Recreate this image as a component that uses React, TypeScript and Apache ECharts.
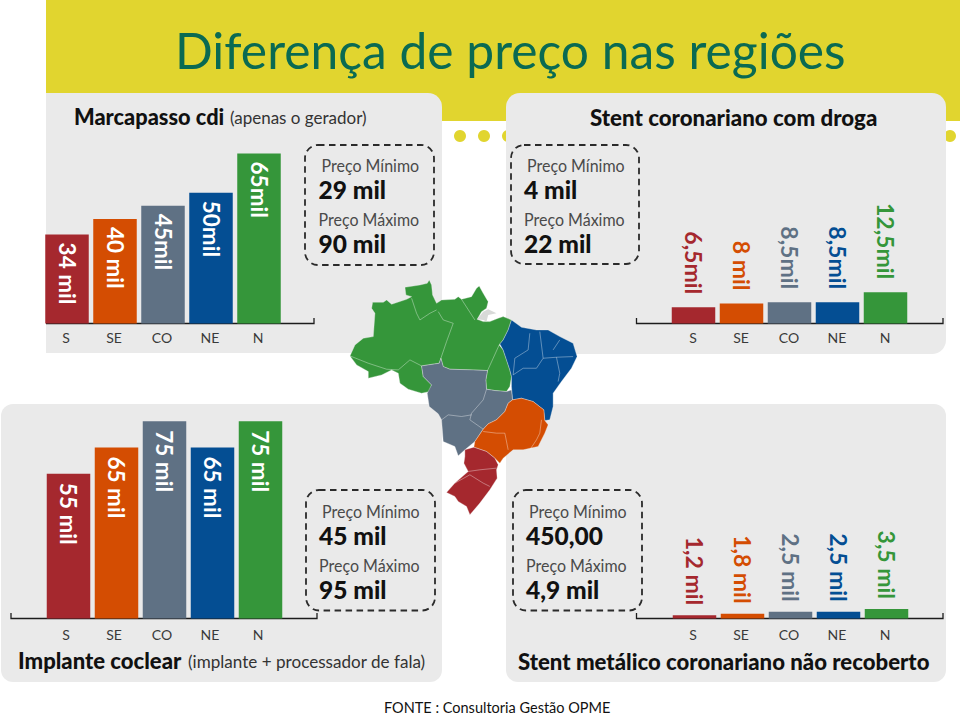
import React, { useEffect, useRef } from "react";
import * as echarts from "echarts";

const regions = ["S", "SE", "CO", "NE", "N"];
const regionColors = ["#A5282E", "#D44D02", "#5F7184", "#044E93", "#35963A"];

const marcapassoValues = [34, 40, 45, 50, 65];
const marcapassoLabels = ["34 mil", "40 mil", "45mil", "50mil", "65mil"];
const stentDrogaValues = [6.5, 8, 8.5, 8.5, 12.5];
const stentDrogaLabels = ["6,5mil", "8 mil", "8,5mil", "8,5mil", "12,5mil"];
const implanteValues = [55, 65, 75, 65, 75];
const implanteLabels = ["55 mil", "65 mil", "75 mil", "65 mil", "75 mil"];
const stentMetalValues = [1.2, 1.8, 2.5, 2.5, 3.5];
const stentMetalLabels = ["1,2 mil", "1,8 mil", "2,5 mil", "2,5 mil", "3,5 mil"];

const SANS = "Lato, 'Open Sans', sans-serif";

const northShape = [[98,97],[130,97],[140,90],[155,103],[200,88],[215,80],[198,75],[195,52],[240,45],[262,40],[268,30],[275,45],[278,75],[290,100],[305,90],[345,88],[355,80],[365,88],[395,80],[410,55],[418,48],[430,70],[445,95],[440,115],[425,125],[412,148],[430,155],[450,155],[475,145],[490,140],[515,150],[505,180],[490,210],[478,225],[490,240],[500,270],[510,300],[515,320],[510,350],[500,365],[465,362],[440,358],[438,330],[443,302],[400,300],[330,298],[310,290],[303,265],[298,280],[245,288],[250,320],[275,345],[270,365],[245,370],[205,358],[180,340],[175,310],[155,300],[125,315],[85,325],[85,305],[50,285],[30,258],[45,225],[70,205],[100,200],[105,130],[95,115]];
const northeastShape = [[515,150],[545,172],[590,180],[625,180],[660,200],[700,220],[712,260],[695,295],[665,335],[640,370],[640,410],[630,450],[615,452],[612,420],[580,395],[545,385],[518,390],[515,350],[515,320],[510,300],[500,270],[490,240],[480,222],[490,210],[505,180]];
const midwestShape = [[245,288],[298,280],[303,265],[310,290],[330,298],[400,300],[443,302],[438,330],[440,358],[465,362],[500,365],[515,360],[518,390],[505,400],[495,425],[470,450],[445,462],[430,478],[405,515],[375,540],[355,558],[345,530],[310,515],[305,450],[295,432],[268,410],[262,370],[275,345],[250,320]];
const southeastShape = [[518,390],[545,385],[580,395],[612,420],[615,452],[625,465],[615,490],[595,530],[550,540],[520,540],[490,565],[480,580],[465,565],[440,545],[402,532],[405,515],[430,478],[445,462],[470,450],[495,425],[505,400]];
const southShape = [[375,540],[402,532],[440,545],[465,565],[475,585],[470,600],[472,625],[450,660],[420,700],[390,735],[380,710],[355,695],[345,680],[320,668],[345,640],[385,605],[372,580],[375,560]];
const marajoShape = [[412,148],[430,125],[445,118],[470,130],[445,135],[440,155],[430,150]];
const stateBorders = [
  [[30,258],[85,280],[140,298],[175,300],[210,270],[245,288]],
  [[215,85],[230,130],[240,150],[270,130],[290,120]],
  [[295,125],[310,150],[340,160],[320,215],[303,265]],
  [[365,88],[405,150]],
  [[478,225],[460,265],[443,302]],
  [[570,190],[565,240],[525,265],[520,315],[550,295],[590,295],[610,265],[600,185]],
  [[610,265],[650,262],[700,260]],
  [[640,240],[660,210]],
  [[650,262],[660,310],[655,335]],
  [[440,358],[430,390],[395,430],[390,450],[430,478]],
  [[305,450],[325,435],[365,440],[395,435]],
  [[430,485],[470,490],[495,490],[505,540]],
  [[605,450],[600,490],[590,510],[570,540]],
  [[385,605],[420,600],[470,595]],
  [[345,640],[390,615],[430,640],[450,650]],
];

function text(x: number, y: number, t: string, size: number, weight: string, fill: string, scaleX = 1, family = SANS) {
  return {
    type: "text", x, y, scaleX, z: 1,
    style: { text: t, fontSize: size, fontWeight: weight, fontFamily: family, fill, textAlign: "left", verticalAlign: "middle" },
  };
}

function panel(x: number, y: number, w: number, h: number, r: number[]) {
  return { type: "rect", z: -2, shape: { x, y, width: w, height: h, r }, style: { fill: "#EAEAEA" } };
}

function dashedBox(x: number, y: number, w: number, h: number) {
  return {
    type: "rect", z: 1,
    shape: { x, y, width: w, height: h, r: 13 },
    style: { fill: "none", stroke: "#2b2b2b", lineWidth: 1.8, lineDash: [6.5, 4.5] },
  };
}

function axisBracket(points: number[][]) {
  return { type: "polyline", z: 1, shape: { points }, style: { fill: "none", stroke: "#1c1c1c", lineWidth: 1.3 } };
}

function priceTexts(x: number, y: number, min: string, max: string) {
  return [
    text(x + 3, y, "Preço Mínimo", 18, "normal", "#4a4a4a", 0.89),
    text(x, y + 24, min, 25, "900", "#111111", 0.98),
    text(x, y + 54, "Preço Máximo", 18, "normal", "#4a4a4a", 0.89),
    text(x, y + 78, max, 25, "900", "#111111", 0.98),
  ];
}

function buildMap() {
  const region = (points: number[][], fill: string) => ({
    type: "polygon", shape: { points }, style: { fill, stroke: "#EFEFEF", lineWidth: 1 },
  });
  return {
    type: "group", x: 340, y: 270, scaleX: 1 / 3, scaleY: 1 / 3, z: 3,
    children: [
      region(northShape, regionColors[4]),
      region(northeastShape, regionColors[3]),
      region(midwestShape, regionColors[2]),
      region(southeastShape, regionColors[1]),
      region(southShape, regionColors[0]),
      { type: "polygon", shape: { points: marajoShape }, style: { fill: "#D8DAD8" } },
      ...stateBorders.map((points) => ({
        type: "polyline", shape: { points },
        style: { fill: "none", stroke: "rgba(255,255,255,0.55)", lineWidth: 2 },
      })),
    ],
  };
}

type Spec = {
  left: number; base: number; unit: number; max: number; values: number[]; labels: string[];
  inside: boolean; distance: number; labelShift: number; margin: number;
};

const specs: Spec[] = [
  { left: 43, base: 323.5, unit: 2.615, max: 80, values: marcapassoValues, labels: marcapassoLabels, inside: true, distance: 8, labelShift: 1, margin: 7 },
  { left: 669.5, base: 323.5, unit: 2.5, max: 20, values: stentDrogaValues, labels: stentDrogaLabels, inside: false, distance: 13, labelShift: 0.5, margin: 7 },
  { left: 44.5, base: 618.5, unit: 2.63, max: 80, values: implanteValues, labels: implanteLabels, inside: true, distance: 9, labelShift: 2.5, margin: 9 },
  { left: 670.5, base: 618.5, unit: 2.7, max: 10, values: stentMetalValues, labels: stentMetalLabels, inside: false, distance: 10, labelShift: 1.5, margin: 9 },
];

export default function App() {
  const ref = useRef<HTMLDivElement>(null);
  useEffect(() => {
    const chart = echarts.init(ref.current!, undefined, { renderer: "svg" });
    const grid = specs.map((s) => ({
      left: s.left, width: 240, top: s.base - s.unit * s.max, height: s.unit * s.max, containLabel: false,
    }));
    const xAxis = specs.map((s, i) => ({
      type: "category", gridIndex: i, data: regions, z: 5,
      axisLine: { show: false }, axisTick: { show: false },
      axisLabel: {
        margin: s.margin, color: "#3a3a3a", fontSize: 14, fontFamily: SANS,
        padding: [0, s.labelShift * 2, 0, 0],
      },
    }));
    const yAxis = specs.map((s, i) => ({ type: "value", gridIndex: i, min: 0, max: s.max, show: false }));
    const series = specs.map((s, i) => ({
      type: "bar", xAxisIndex: i, yAxisIndex: i, barWidth: 43.5, z: 2,
      data: s.values.map((v, j) => ({
        value: v,
        itemStyle: { color: regionColors[j] },
        label: {
          show: true, formatter: s.labels[j], rotate: -90, distance: s.distance,
          position: s.inside ? "insideTop" : "top",
          align: s.inside ? "left" : "right", verticalAlign: "middle",
          color: s.inside ? "#FFFFFF" : regionColors[j],
          fontSize: s.inside ? 22.5 : 23, fontWeight: "bold", fontFamily: SANS,
        },
      })),
    }));
    const elements: any[] = [
      { type: "rect", z: -3, shape: { x: 46, y: 0, width: 914, height: 121 }, style: { fill: "#E1D52F" } },
      ...[460, 484, 508, 950].map((cx) => ({ type: "circle", z: -3, shape: { cx, cy: 136, r: 6 }, style: { fill: "#E1D52F" } })),
      text(175, 50, "Diferença de preço nas regiões", 50, "normal", "#0A6A52", 0.995),
      panel(46, 93, 396, 260, [0, 14, 0, 0]),
      panel(506, 93, 440, 261, [14, 14, 14, 0]),
      panel(1, 404, 441, 278, [12, 12, 12, 12]),
      panel(506, 404, 440, 278, [12, 12, 12, 12]),
      text(74, 116, "Marcapasso cdi", 22, "900", "#111111", 0.99),
      text(230, 117.5, "(apenas o gerador)", 17, "normal", "#333333"),
      text(590, 117, "Stent coronariano com droga", 22.5, "900", "#111111", 0.99),
      text(18, 660, "Implante coclear", 23, "900", "#111111", 0.96),
      text(188, 661.5, "(implante + processador de fala)", 18, "normal", "#333333", 0.95),
      text(518, 661, "Stent metálico coronariano não recoberto", 22.5, "900", "#111111", 0.985),
      dashedBox(305, 145, 129, 120),
      dashedBox(511, 145, 128, 119),
      dashedBox(306, 490, 129, 120.5),
      dashedBox(513, 490, 129, 120.5),
      ...priceTexts(318.5, 165, "29 mil", "90 mil"),
      ...priceTexts(524, 165, "4 mil", "22 mil"),
      ...priceTexts(319, 511, "45 mil", "95 mil"),
      ...priceTexts(526, 511, "450,00", "4,9 mil"),
      axisBracket([[46, 323.5], [314, 323.5], [314, 318]]),
      axisBracket([[636.5, 318], [636.5, 323.5], [943, 323.5], [943, 318]]),
      axisBracket([[11, 613], [11, 618.5], [317, 618.5], [317, 613]]),
      axisBracket([[636.5, 613], [636.5, 618.5], [943, 618.5], [943, 613]]),
      buildMap(),
      text(384, 707.5, "FONTE : Consultoria Gestão OPME", 14.5, "normal", "#111111"),
    ];
    chart.setOption({
      animation: false, backgroundColor: "#FFFFFF",
      grid, xAxis, yAxis, series, graphic: { elements },
    });
    return () => chart.dispose();
  }, []);
  return <div ref={ref} style={{ position: "fixed", left: 0, top: 0, width: 960, height: 716 }} />;
}
